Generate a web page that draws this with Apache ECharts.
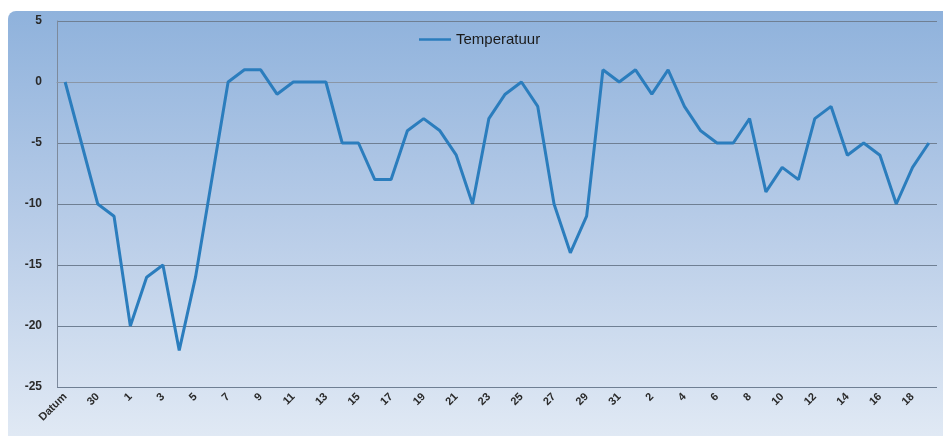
<!DOCTYPE html>
<html>
<head>
<meta charset="utf-8">
<script src="https://cdn.jsdelivr.net/npm/echarts@6/dist/echarts.min.js"></script>
<style>
html,body{margin:0;padding:0;background:#fff;}
#c{width:943px;height:436px;}
</style>
</head>
<body>
<div id="c"></div>
<script>
const categories = ['Datum','29','30','31',
 '1','2','3','4','5','6','7','8','9','10','11','12','13','14','15','16','17','18','19','20','21','22','23','24','25','26','27','28','29','30','31',
 '1','2','3','4','5','6','7','8','9','10','11','12','13','14','15','16','17','18','19'];
const temperatuur = [0,-5,-10,-11,-20,-16,-15,-22,-16,-8,
 0,1,1,-1,0,0,0,-5,-5,-8,
 -8,-4,-3,-4,-6,-10,-3,-1,0,-2,
 -10,-14,-11,1,0,1,-1,1,-2,-4,
 -5,-5,-3,-9,-7,-8,-3,-2,-6,-5,
 -6,-10,-7,-5];
const seriesName = 'Temperatuur';
const yMin = -25, yMax = 5, yStep = 5;

const chart = echarts.init(document.getElementById('c'), null, {renderer:'canvas'});
chart.setOption({
  animation:false,
  backgroundColor:'#ffffff',
  graphic:[{
    type:'rect', z:-10, silent:true,
    shape:{x:8,y:11,width:945,height:440,r:8},
    style:{fill:new echarts.graphic.LinearGradient(0,0,0,1,[
      {offset:0,color:'#8fb2dc'},
      {offset:0.5,color:'#b9cde8'},
      {offset:1,color:'#e3ebf5'}
    ])}
  }],
  legend:{
    top:27, left:414,
    itemWidth:32, itemHeight:10, itemGap:2,
    icon:'path://M0,4L32,4L32,6.5L0,6.5Z',
    textStyle:{color:'#1a1a1a',fontSize:15,fontFamily:'Liberation Sans, Arial'},
    data:[seriesName]
  },
  grid:{left:57,top:21,right:6,bottom:49,containLabel:false},
  xAxis:{
    type:'category', data:categories, boundaryGap:true,
    axisLine:{lineStyle:{color:'#8a96a6',width:1}},
    axisTick:{show:false},
    axisLabel:{interval:1, rotate:45, color:'#2a2a2a', fontSize:11, margin:8, fontWeight:'bold', fontFamily:'Liberation Sans, Arial'}
  },
  yAxis:{
    type:'value', min:yMin, max:yMax, interval:yStep,
    axisLine:{show:true,lineStyle:{color:'#7d8a9c'}},
    axisTick:{show:false},
    axisLabel:{color:'#2a2a2a',fontSize:12,margin:15,fontWeight:'bold',fontFamily:'Liberation Sans, Arial'},
    splitLine:{lineStyle:{color:'#6f7f93',width:1}}
  },
  series:[{
    name:seriesName, type:'line', data:temperatuur,
    showSymbol:false, symbol:'none',
    lineStyle:{color:'#2b7dbd',width:3},
    itemStyle:{color:'#2b7dbd'}
  }]
});
</script>
</body>
</html>
